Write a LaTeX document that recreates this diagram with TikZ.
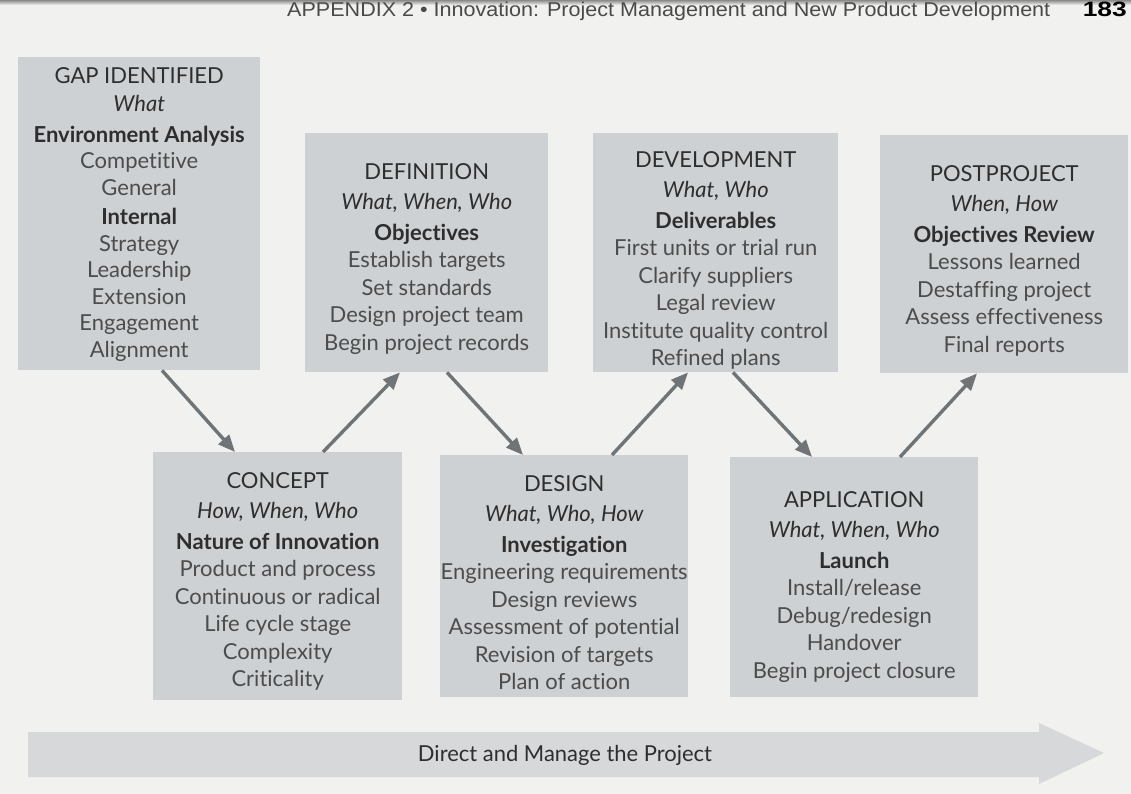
\documentclass[tikz,border=0pt]{standalone}
\usepackage{fontspec}
\setmainfont{Lato}[Ligatures={NoCommon}]
\setsansfont{Liberation Sans}
\usetikzlibrary{arrows.meta}

\definecolor{paper}{HTML}{F1F1EF}
\definecolor{pageedge}{HTML}{8A8A88}
\definecolor{boxfill}{HTML}{CDD1D4}
\definecolor{bandfill}{HTML}{D6D8D9}
\definecolor{arrowgray}{HTML}{6F7477}
\definecolor{headink}{HTML}{2E2E2E}
\definecolor{itemink}{HTML}{4C4C4C}
\definecolor{runink}{HTML}{4A4A4A}

% line kinds inside a phase box
\newcommand\phtitle[1]{{\color{headink}#1}}
\newcommand\phask[1]{{\color{headink}\itshape #1}}
\newcommand\phsub[1]{{\color{headink}\bfseries #1}}

\tikzset{
  phase/.style={fill=boxfill, draw=none, inner sep=0pt, anchor=north west},
  phasetext/.style={align=center, inner sep=0pt, anchor=north, text=itemink,
    font=\fontsize{22}{27.5}\selectfont},
  flow/.style={draw=arrowgray, line width=3.4pt,
    -{Triangle[length=17pt,width=14pt]}}
}

\begin{document}
\begin{tikzpicture}[x=1pt, y=-1pt]
  \useasboundingbox (0,0) rectangle (1131,794);
  \clip (0,0) rectangle (1131,794);
  \fill[paper] (0,0) rectangle (1131,794);
  \shade[top color=pageedge, bottom color=paper] (0,0) rectangle (1131,5);

  % running head
  \node[anchor=base west, inner sep=0pt, text=runink] (runhead) at (287,17)
    {\resizebox{763pt}{14.5pt}{\sffamily APPENDIX 2 • Innovation: Project Management and New Product Development}};
  \node[anchor=base east, inner sep=0pt, text=black] (pageno) at (1127,17)
    {\resizebox{44pt}{14.5pt}{\sffamily\bfseries 183}};

  % phase boxes
  \node[phase, minimum width=242pt, minimum height=313pt] (gap)     at (18,57)   {};
  \node[phase, minimum width=243pt, minimum height=239pt] (def)     at (305,133) {};
  \node[phase, minimum width=245pt, minimum height=239pt] (dev)     at (593,133) {};
  \node[phase, minimum width=248pt, minimum height=238pt] (post)    at (880,135) {};
  \node[phase, minimum width=249pt, minimum height=248pt] (concept) at (153,452) {};
  \node[phase, minimum width=248pt, minimum height=242pt] (design)  at (440,455) {};
  \node[phase, minimum width=248pt, minimum height=240pt] (app)     at (730,457) {};

  % phase texts
  \node[phasetext, font=\fontsize{22}{26.5}\selectfont] (gapT) at ([yshift=-10pt]gap.north) {%
    \phtitle{GAP IDENTIFIED}\\[2pt]
    \phask{What}\\[4pt]
    \phsub{Environment Analysis}\\
    Competitive\\
    General\\[3pt]
    \phsub{Internal}\\
    Strategy\\
    Leadership\\
    Extension\\
    Engagement\\
    Alignment};

  \node[phasetext] (defT) at ([yshift=-30pt]def.north) {%
    \phtitle{DEFINITION}\\[3pt]
    \phask{What, When, Who}\\[3pt]
    \phsub{Objectives}\\
    Establish targets\\
    Set standards\\
    Design project team\\
    Begin project records};

  \node[phasetext] (devT) at ([yshift=-18pt]dev.north) {%
    \phtitle{DEVELOPMENT}\\[3pt]
    \phask{What, Who}\\[3pt]
    \phsub{Deliverables}\\
    First units or trial run\\
    Clarify suppliers\\
    Legal review\\
    Institute quality control\\
    Refined plans};

  \node[phasetext] (postT) at ([yshift=-30pt]post.north) {%
    \phtitle{POSTPROJECT}\\[3pt]
    \phask{When,\ How}\\[3pt]
    \phsub{Objectives Review}\\
    Lessons learned\\
    Destaffing project\\
    Assess effectiveness\\
    Final reports};

  \node[phasetext] (conceptT) at ([yshift=-20pt]concept.north) {%
    \phtitle{CONCEPT}\\[3pt]
    \phask{How, When, Who}\\[3pt]
    \phsub{Nature of Innovation}\\
    Product and process\\
    Continuous or radical\\
    Life cycle stage\\
    Complexity\\
    Criticality};

  \node[phasetext] (designT) at ([yshift=-20pt]design.north) {%
    \phtitle{DESIGN}\\[3pt]
    \phask{What, Who,\ How}\\[3pt]
    \phsub{Investigation}\\
    Engineering requirements\\
    Design reviews\\
    Assessment of potential\\
    Revision of targets\\
    Plan of action};

  \node[phasetext] (appT) at ([yshift=-34pt]app.north) {%
    \phtitle{APPLICATION}\\[3pt]
    \phask{What, When, Who}\\[3pt]
    \phsub{Launch}\\
    Install/release\\
    Debug/redesign\\
    Handover\\
    Begin project closure};

  % flow between phases
  \draw[flow] ([xshift=144pt]gap.south west)     -- ([xshift=82pt]concept.north west);
  \draw[flow] ([xshift=170pt]concept.north west) -- ([xshift=95pt]def.south west);
  \draw[flow] ([xshift=142pt]def.south west)     -- ([xshift=83pt]design.north west);
  \draw[flow] ([xshift=172pt]design.north west)  -- ([xshift=95pt]dev.south west);
  \draw[flow] ([xshift=140pt]dev.south west)     -- ([xshift=82pt]app.north west);
  \draw[flow] ([xshift=170pt]app.north west)     -- ([xshift=97pt]post.south west);

  % management band
  \fill[bandfill] (28,732) -- (1039,732) -- (1039,723) -- (1104,753)
    -- (1039,784) -- (1039,777) -- (28,777) -- cycle;
  \node[inner sep=0pt, text=headink] (direct) at (565,755)
    {\resizebox{294pt}{!}{Direct and Manage the Project}};
\end{tikzpicture}
\end{document}
